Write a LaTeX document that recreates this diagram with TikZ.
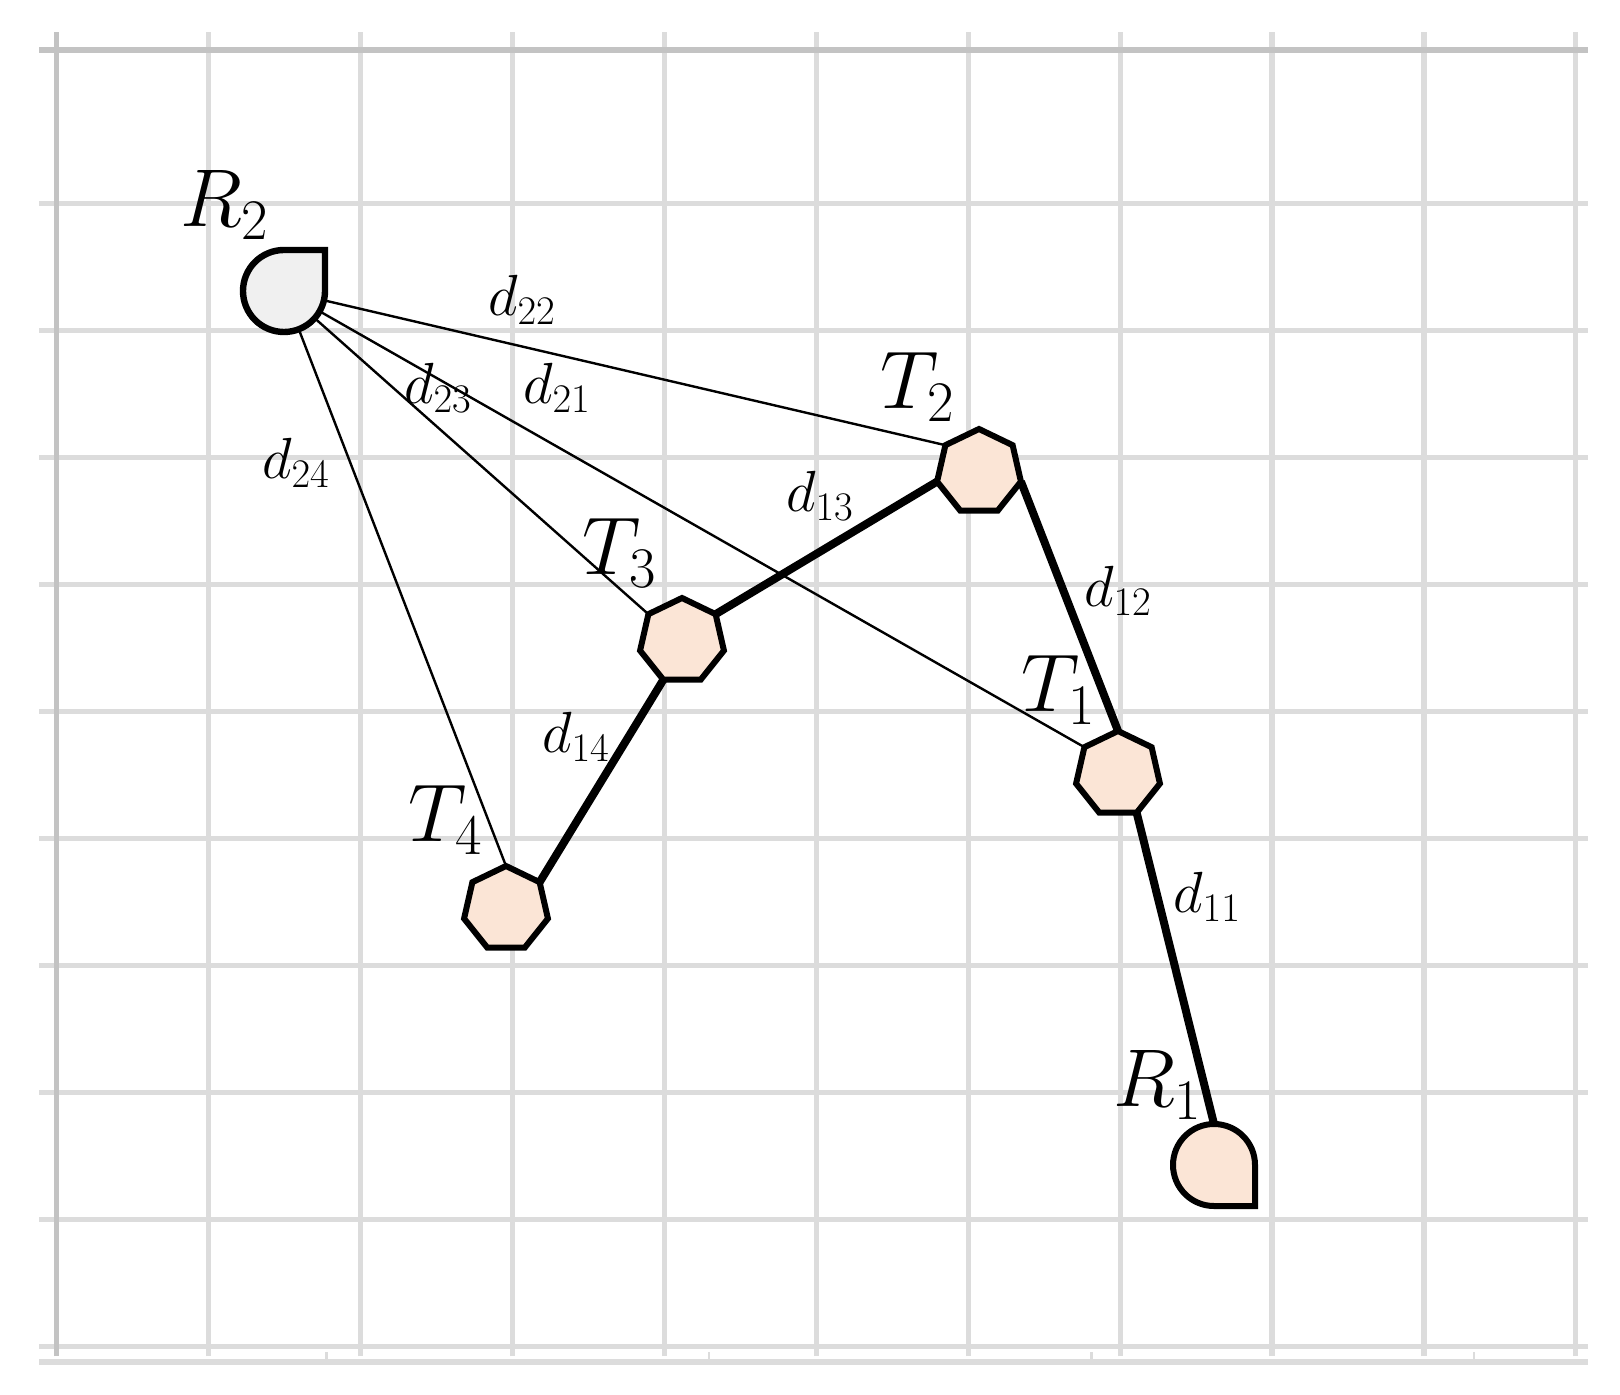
\RequirePackage{fix-cm}
\documentclass[tikz,border=0pt]{standalone}
\usetikzlibrary{shapes.geometric,backgrounds}
\definecolor{peach}{HTML}{FBE5D6}
\definecolor{pale}{HTML}{F0F0F0}
\definecolor{gridgray}{HTML}{DCDCDC}
\definecolor{framegray}{HTML}{C3C3C3}
\tikzset{
  tag/.style={regular polygon,regular polygon sides=7,minimum size=43pt,
    inner sep=0pt,outer sep=0pt,draw,line width=3pt,fill=peach},
  reader/.style={circle,minimum size=41pt,inner sep=0pt,outer sep=0pt},
  idlabel/.style={font=\fontsize{41}{48}\selectfont,inner sep=0pt},
  distlabel/.style={font=\fontsize{29}{34}\selectfont,inner sep=0pt},
  reach/.style={line width=1.2pt},
  hop/.style={line width=4pt},
  gridrule/.style={draw=gridgray,line width=2.6pt},
  framerule/.style={draw=framegray,line width=2.6pt},
}
\begin{document}
\begin{tikzpicture}[x=0.5pt,y=0.5pt]
      \useasboundingbox (0,0) rectangle (1620,1394);
      \draw
        (1118,620) node[tag] (t1) {}
        (979,922) node[tag] (t2) {}
        (682,753) node[tag] (t3) {}
        (506,485) node[tag] (t4) {}
        (1214,229) node[reader] (r1) {}
        (284,1103) node[reader] (r2) {};
      \draw[line width=3pt,fill=peach] (r1.east) -- (r1.east |- r1.south) -- (r1.south)
        arc[start angle=-90,end angle=-360,radius=20.5pt] -- cycle;
      \draw[line width=3.2pt,fill=pale] (r2.north) -- (r2.north -| r2.east) -- (r2.east)
        arc[start angle=0,end angle=-270,radius=20.5pt] -- cycle;
      \draw
        (225,1189) node[idlabel] (lr2) {$R_2$}
        (1158,309) node[idlabel] (lr1) {$R_1$}
        (1059,704) node[idlabel] (lt1) {$T_1$}
        (918,1007) node[idlabel] (lt2) {$T_2$}
        (620,841) node[idlabel] (lt3) {$T_3$}
        (446,574) node[idlabel] (lt4) {$T_4$};
      \draw
        (1207,497) node[distlabel] (d11) {$d_{11}$}
        (1118,803) node[distlabel] (d12) {$d_{12}$}
        (820,898) node[distlabel] (d13) {$d_{13}$}
        (576,657) node[distlabel] (d14) {$d_{14}$}
        (557,1006) node[distlabel] (d21) {$d_{21}$}
        (522,1094) node[distlabel] (d22) {$d_{22}$}
        (438,1006) node[distlabel] (d23) {$d_{23}$}
        (296,931) node[distlabel] (d24) {$d_{24}$};
      \begin{scope}[on background layer]
        % grid
        \foreach \k in {0,...,10}
          \draw[gridrule] ({56.8+151.9*\k},38) -- ({56.8+151.9*\k},1362);
        \foreach \k in {0,...,9}
          \draw[gridrule] (39,{1190.5-127*\k}) -- (1588,{1190.5-127*\k});
        \draw[framerule] (39,1344) -- (1588,1344);
        \draw[framerule] (56.8,38) -- (56.8,1362);
        \draw[gridrule] (39,32) -- (1588,32);
        \foreach \k in {0,...,3}
          \draw[gridrule,line width=1.2pt] ({326.5+382.5*\k},32) -- ({326.5+382.5*\k},42);
        % links
        \draw[reach] (r2) to (t2.corner 2);
        \draw[reach] (r2) to (t1.corner 2);
        \draw[reach] (r2) to (t3.corner 2);
        \draw[reach] (r2) to (t4.corner 1);
        \draw[hop] (t1.corner 5) to (r1.north);
        \draw[hop] (t2.corner 6) to (t1.corner 1);
        \draw[hop] (t2.corner 3) to (t3.corner 7);
        \draw[hop] (t3.corner 4) to (t4.corner 7);
      \end{scope}
    \end{tikzpicture}
\end{document}
